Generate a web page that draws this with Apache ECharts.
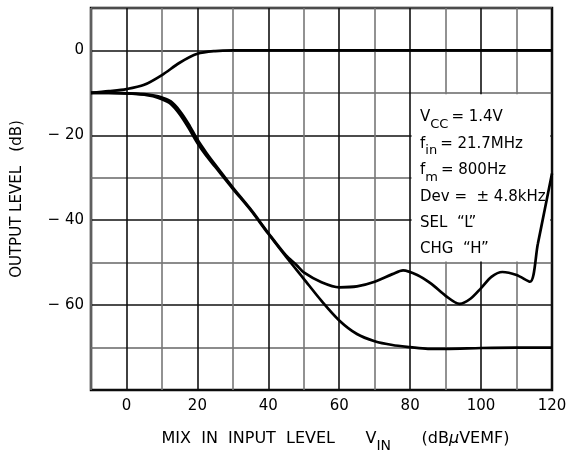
<!DOCTYPE html>
<html>
<head>
<meta charset="utf-8">
<script src="https://cdn.jsdelivr.net/npm/echarts@6/dist/echarts.min.js"></script>
<style>
  html, body { margin: 0; padding: 0; background: #fff; }
  #chart { width: 567px; height: 454px; }
</style>
</head>
<body>
<div id="chart"></div>
<script>
// curve that rises to 0 dB (limited output)
const xLimit = [-10, -5, 0, 5, 10, 15, 20, 25, 30, 40, 60, 80, 100, 120]
const yLimit = [-10, -9.6, -9.1, -8.1, -5.8, -2.9, -0.8, -0.15, 0, 0, 0, 0, 0, 0]

// upper of the two falling curves (with ripples)
const xUpper = [-10, -5, 0, 5, 7.5, 10, 12.5, 15, 17.5, 20, 22.5, 25, 30, 35, 40, 45, 48, 50, 55, 60, 65, 70, 75, 78, 82, 86, 90, 94, 97, 100, 103, 106, 110, 113.8, 116, 118, 120]
const yUpper = [-10, -10, -10.1, -10.3, -10.6, -11.1, -12.0, -14.2, -17.3, -21.0, -24.1, -26.9, -32.3, -37.4, -43.0, -48.3, -50.6, -52.3, -54.6, -55.8, -55.6, -54.5, -52.7, -51.8, -52.9, -55.0, -57.8, -59.7, -58.5, -56.0, -53.3, -52.2, -52.9, -54.5, -45.6, -37.3, -29]

// lower falling curve, settles at -70 dB
const xLower = [-10, -5, 0, 5, 7.5, 10, 12.5, 15, 17.5, 20, 22.5, 25, 30, 35, 40, 45, 50, 55, 60, 65, 70, 75, 80, 85, 90, 100, 110, 120]
const yLower = [-10, -10, -10.1, -10.4, -10.8, -11.5, -12.6, -15.0, -18.2, -21.8, -24.8, -27.4, -32.6, -37.6, -43.2, -48.6, -53.8, -59.0, -63.6, -66.8, -68.5, -69.4, -69.9, -70.3, -70.3, -70.1, -70, -70]

const noteLines = [
  '{m|V}{s|CC}{m|= 1.4V}',
  '{m|f}{s|in}{m|= 21.7MHz}',
  '{m|f}{s|m}{m|= 800Hz}',
  '{m|Dev =  ± 4.8kHz}',
  '{m|SEL  “L”}',
  '{m|CHG  “H”}'
]

const font = 'DejaVu Sans'
const pairs = (xs, ys) => xs.map((x, i) => [x, ys[i]])

const lineSeries = (data) => ({
  type: 'line',
  data: data,
  smooth: 0.3,
  showSymbol: false,
  z: 5,
  lineStyle: { color: '#000', width: 2.7 }
})

const chart = echarts.init(document.getElementById('chart'))

const noteRich = {
  m: { fontFamily: font, fontSize: 15, color: '#000', lineHeight: 18, verticalAlign: 'top' },
  s: { fontFamily: font, fontSize: 13, color: '#000', lineHeight: 21, verticalAlign: 'bottom', padding: [0, 3, 0, 0] }
}

const option = {
  animation: false,
  grid: {
    left: 91, right: 15, top: 8, bottom: 64,
    outerBoundsMode: 'none',
    show: true, borderColor: '#000', borderWidth: 2.5
  },
  xAxis: {
    type: 'value',
    min: -10, max: 120, interval: 10,
    axisLine: { show: false },
    axisTick: { show: false },
    axisLabel: {
      margin: 9, color: '#000', fontFamily: font, fontSize: 15,
      formatter: v => (v % 20 === 0 ? String(v) : '')
    },
    splitLine: { lineStyle: { color: ['#777', '#111'], width: 1.6 } },
    name: '{t|MIX  IN  INPUT  LEVEL      V}{s|IN}{t|      (dB}{u|μ}{t|VEMF)}',
    nameLocation: 'middle',
    nameGap: 41,
    nameTextStyle: {
      padding: [0, 0, 0, 28],
      rich: {
        t: { fontFamily: font, fontSize: 16, color: '#000', lineHeight: 19, verticalAlign: 'top' },
        s: { fontFamily: font, fontSize: 14, color: '#000', lineHeight: 22, verticalAlign: 'bottom' },
        u: { fontFamily: font, fontSize: 16, color: '#000', fontStyle: 'italic', lineHeight: 19, verticalAlign: 'top' }
      }
    }
  },
  yAxis: {
    type: 'value',
    min: -80, max: 10, interval: 10,
    axisLine: { show: false },
    axisTick: { show: false },
    axisLabel: {
      margin: 7, color: '#000', fontFamily: font, fontSize: 15,
      formatter: v => {
        if (v === 0) return '0'
        if (v < 0 && v > -80 && v % 20 === 0) return '\u2212 ' + (-v)
        return ''
      }
    },
    splitLine: { lineStyle: { color: ['#111', '#666'], width: 1.6 } },
    name: 'OUTPUT LEVEL   (dB)',
    nameLocation: 'middle',
    nameGap: 66,
    nameTextStyle: { fontFamily: font, fontSize: 15, color: '#000' }
  },
  series: [
    {
      type: 'line',
      data: [],
      z: 1,
      markArea: {
        silent: true,
        itemStyle: { color: '#fff', opacity: 1 },
        data: [[{ coord: [80.4, -10.3] }, { coord: [119.5, -49.7] }]]
      }
    },
    lineSeries(pairs(xLimit, yLimit)),
    lineSeries(pairs(xUpper, yUpper)),
    lineSeries(pairs(xLower, yLower))
  ],
  graphic: noteLines.map((txt, i) => ({
    type: 'text',
    left: 420,
    top: 110 + i * 26.4,
    z: 10,
    style: { text: txt, rich: noteRich }
  }))
}

chart.setOption(option)
</script>
</body>
</html>
